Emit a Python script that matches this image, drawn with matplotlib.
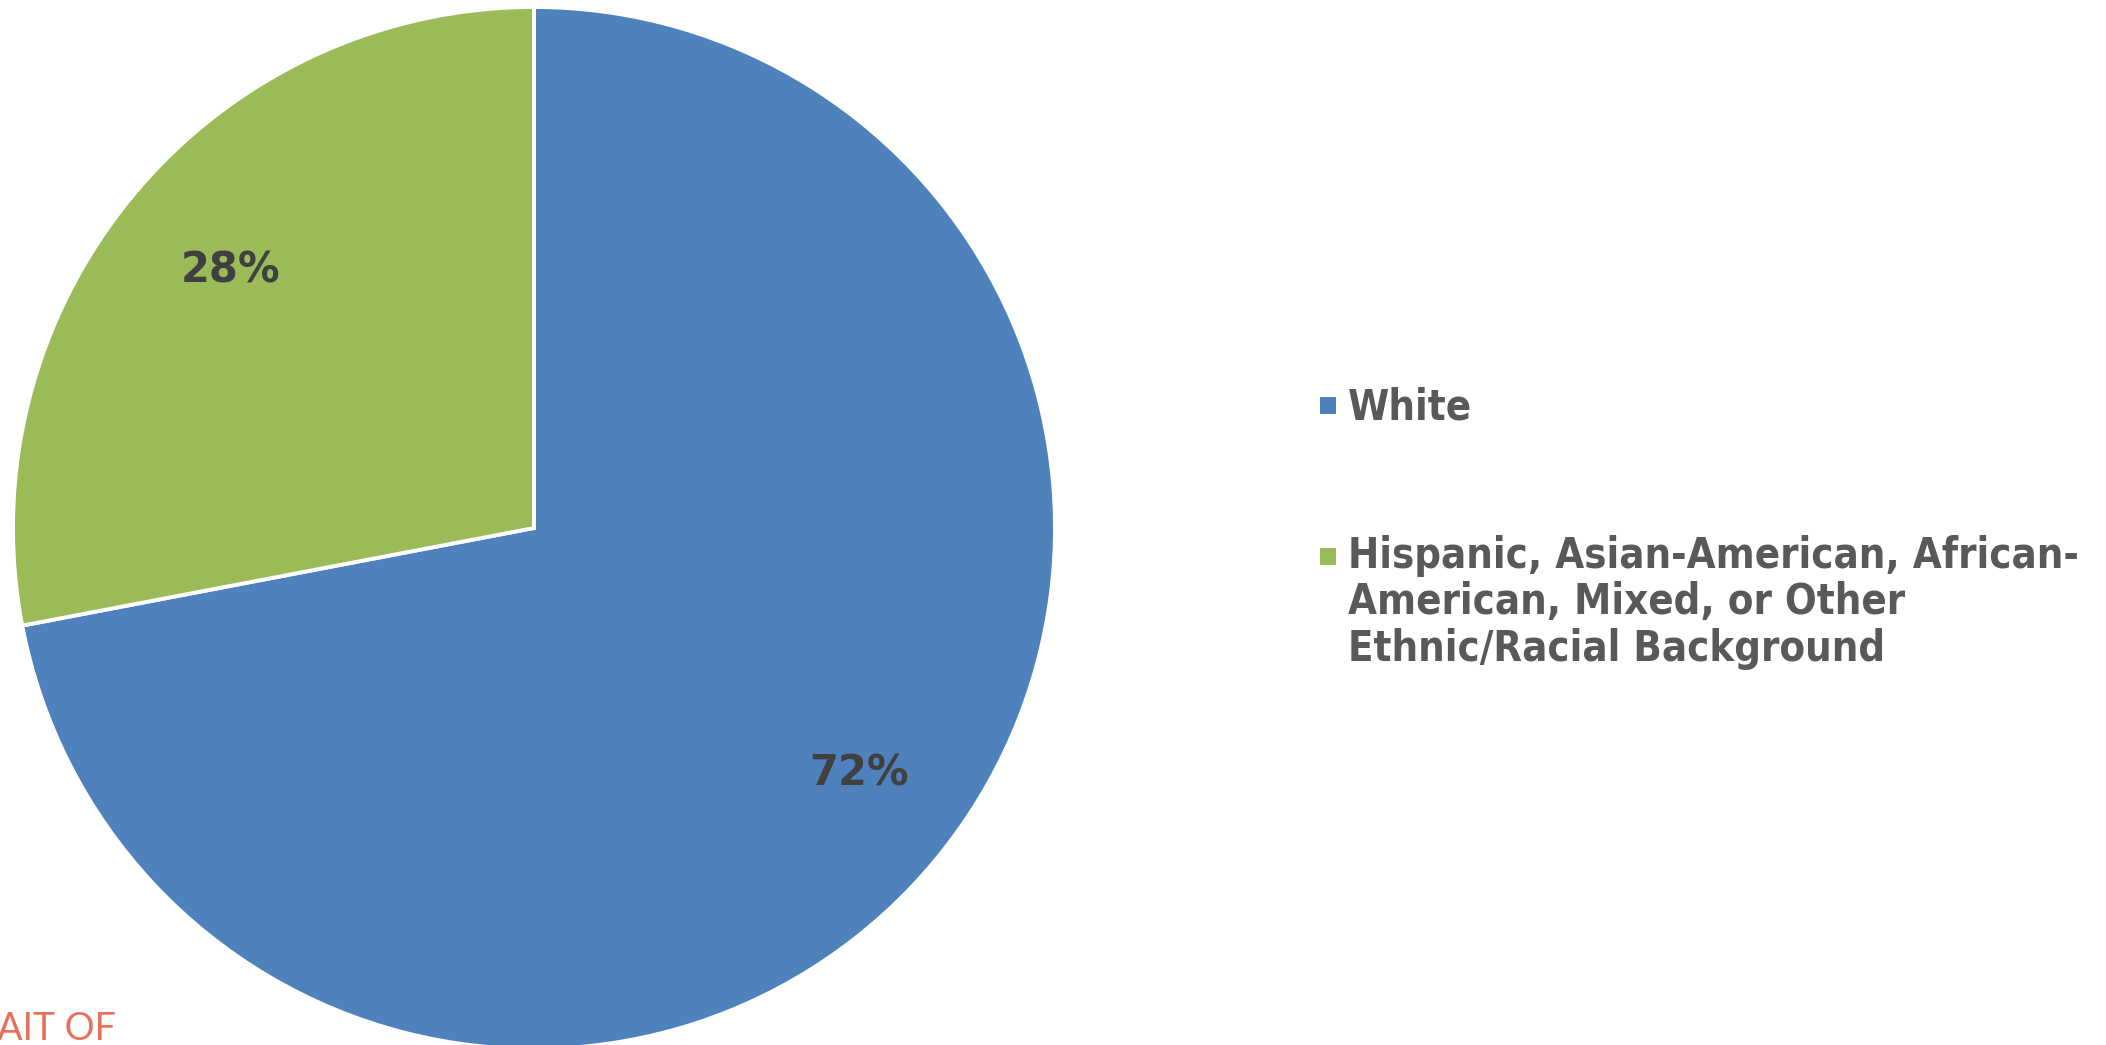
import matplotlib
matplotlib.use("Agg")
import matplotlib.pyplot as plt
from matplotlib.patches import Rectangle

categories = ["White",
              "Hispanic, Asian-American, African-\nAmerican, Mixed, or Other\nEthnic/Racial Background"]
values = [72, 28]
colors = ["#4F81BD", "#9BBB59"]

W, H = 2106, 1045
fig = plt.figure(figsize=(W / 100, H / 100), dpi=100)

def fx(x):
    return x / W

def fy(y):
    return 1 - y / H

# Pie axes: center (534, 528), radius 521 px
cx, cy, R = 534, 528, 521
ax = fig.add_axes([fx(cx - R), fy(cy + R), 2 * R / W, 2 * R / H])
wedges, texts, autotexts = ax.pie(
    values, colors=colors, startangle=90, counterclock=False,
    autopct=lambda p: f"{p:.0f}%", pctdistance=0.78,
    wedgeprops=dict(edgecolor="white", linewidth=2.8),
    textprops=dict(fontsize=30, fontweight="bold", color="#404040",
                   family="DejaVu Sans"))
# fine placement of the percentage labels (axes data units)
label_pos = [(0.624, -0.472), (-0.582, 0.495)]
for t, p in zip(autotexts, label_pos):
    t.set_position(p)
ax.set_xlim(-1, 1)
ax.set_ylim(-1, 1)
ax.set_axis_off()

# Legend (drawn manually)
leg_font = dict(fontsize=30, fontweight="bold", color="#595959",
                family="DejaVu Sans", fontstretch="condensed")
marker_x = 1320
text_x = 1348
last_baselines = [420, 661]
marker_tops = [397, 548]
for lab, col, bl, mt in zip(categories, colors, last_baselines, marker_tops):
    fig.patches.append(Rectangle((fx(marker_x), fy(mt + 17)), 16 / W, 17 / H,
                                 transform=fig.transFigure, facecolor=col,
                                 edgecolor="none"))
    fig.text(fx(text_x), fy(bl), lab, ha="left", va="baseline",
             linespacing=1.14, **leg_font)

# Cropped footer text (partially outside the figure, as in the reference)
fig.text(fx(116), fy(1040), "PORTRAIT OF", ha="right", va="baseline",
         fontsize=27, color="#E8705A", family="Lato")

fig.savefig("out.png", dpi=100, facecolor="white")
